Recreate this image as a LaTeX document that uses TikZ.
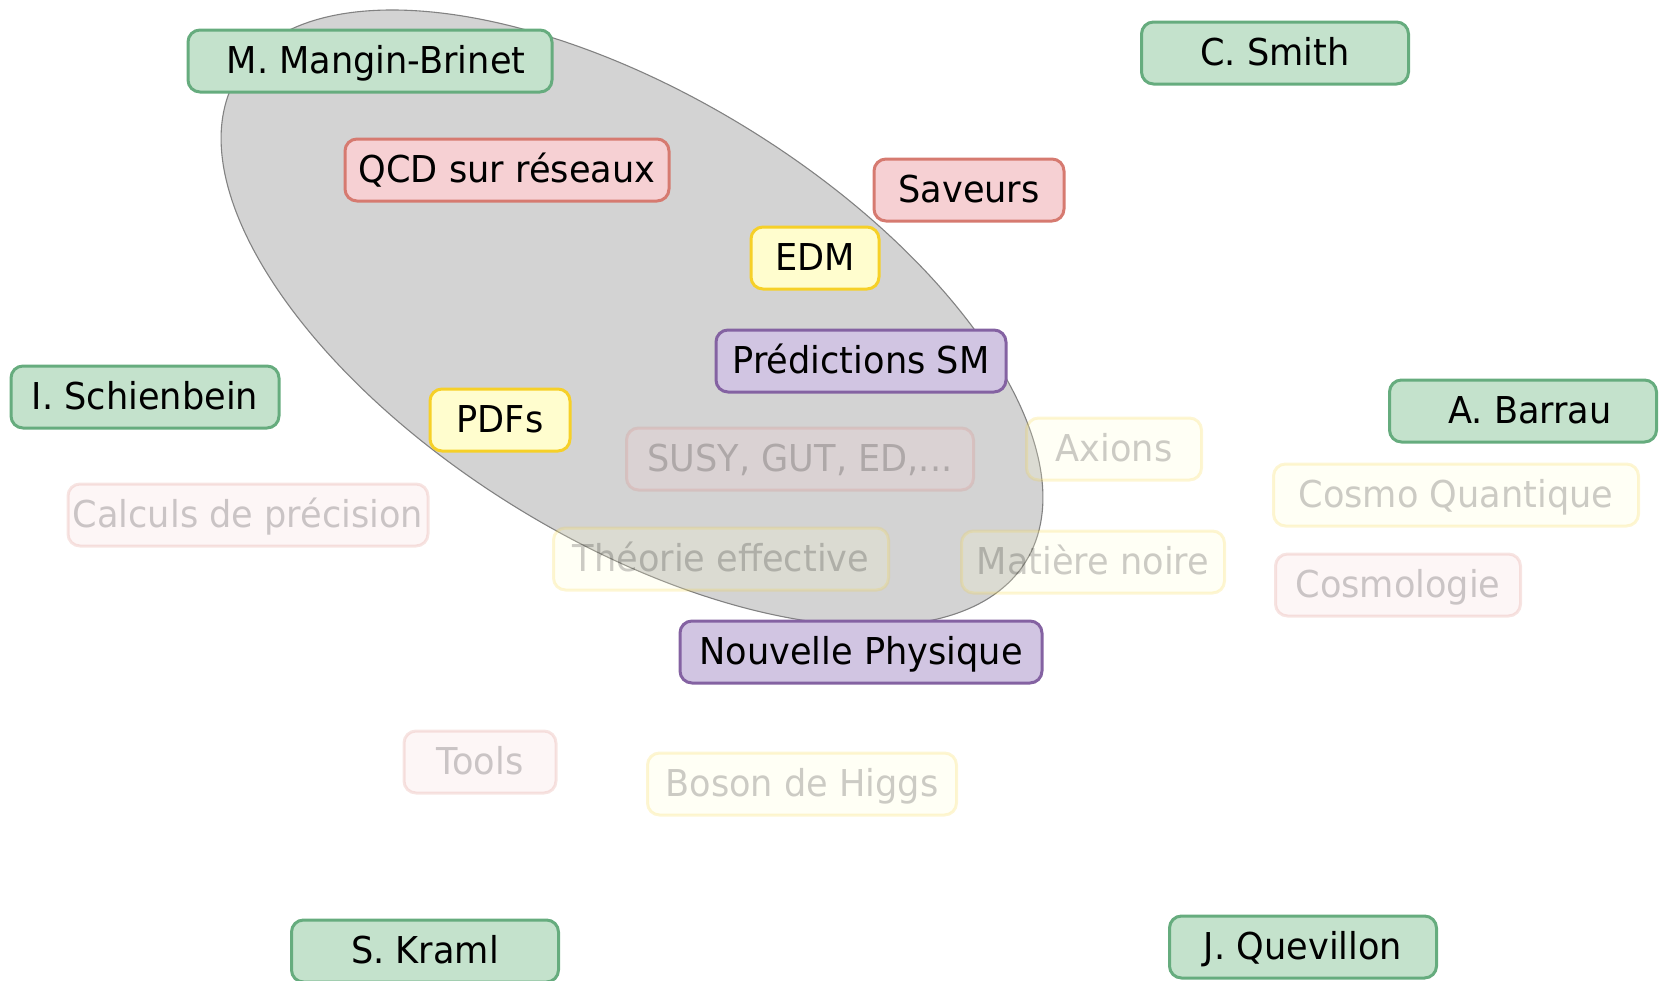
\documentclass[tikz,border=0pt]{standalone}
\usepackage{fontspec}
\setmainfont[FakeStretch=0.95]{DejaVu Sans}
\definecolor{fgreen}{RGB}{196,226,204}
\definecolor{dgreen}{RGB}{102,172,126}
\definecolor{fred}{RGB}{246,208,211}
\definecolor{dred}{RGB}{214,122,112}
\definecolor{fyellow}{RGB}{255,253,206}
\definecolor{dyellow}{RGB}{246,208,40}
\definecolor{fpurple}{RGB}{209,197,226}
\definecolor{dpurple}{RGB}{132,98,162}
\definecolor{ellfill}{RGB}{211,211,211}
\definecolor{elldraw}{RGB}{130,130,130}
\tikzset{
  box/.style={rounded corners=12pt, line width=3pt, minimum height=62pt,
    inner sep=0pt, text height=31pt, text depth=6pt,
    font=\fontsize{37}{44}\selectfont},
  person/.style={box, draw=dgreen, fill=fgreen},
  redbox/.style={box, draw=dred, fill=fred},
  yellowbox/.style={box, draw=dyellow, fill=fyellow},
  purplebox/.style={box, draw=dpurple, fill=fpurple},
  faded/.style={opacity=0.2},
}
\begin{document}
\begin{tikzpicture}[x=1pt, y=-1pt]
  \useasboundingbox (0,0) rectangle (1661,980);
  % shaded domain
  \draw[fill=ellfill, draw=elldraw, line width=1.1pt,
        rotate around={-31.7:(632,318)}]
    (632,318) ellipse [x radius=463pt, y radius=222pt];

  % people
  \node[person, minimum width=364pt] (mangin) at (370,61) {\hspace{12pt}M. Mangin-Brinet};
  \node[person, minimum width=267pt] (smith) at (1275,53) {C. Smith};
  \node[person, minimum width=268pt] (schienbein) at (145,397) {I. Schienbein};
  \node[person, minimum width=267pt] (barrau) at (1523,411) {\hspace{14pt}A. Barrau};
  \node[person, minimum width=267pt] (kraml) at (425,951) {S. Kraml};
  \node[person, minimum width=267pt] (quevillon) at (1303,947) {J. Quevillon};

  % highlighted topics
  \node[redbox, minimum width=324pt] (qcd) at (507,170) {QCD sur réseaux};
  \node[redbox, minimum width=190pt] (saveurs) at (969,190) {Saveurs};
  \node[yellowbox, minimum width=128pt] (edm) at (815,258) {EDM};
  \node[purplebox, minimum width=290pt] (predsm) at (861,361) {Prédictions SM};
  \node[yellowbox, minimum width=140pt] (pdfs) at (500,420) {PDFs};
  \node[purplebox, minimum width=362pt] (nouvelle) at (861,652) {Nouvelle Physique};

  % other topics
  \node[redbox, faded, minimum width=347pt] (susy) at (800,459) {SUSY, GUT, ED,...};
  \node[yellowbox, faded, minimum width=175pt] (axions) at (1114,449) {Axions};
  \node[yellowbox, faded, minimum width=365pt] (cosmoq) at (1456,495) {Cosmo Quantique};
  \node[redbox, faded, minimum width=360pt] (calculs) at (248,515) {Calculs de précision};
  \node[yellowbox, faded, minimum width=335pt] (theorie) at (721,559) {Théorie effective};
  \node[yellowbox, faded, minimum width=263pt] (matiere) at (1093,562) {Matière noire};
  \node[redbox, faded, minimum width=245pt] (cosmologie) at (1398,585) {Cosmologie};
  \node[redbox, faded, minimum width=152pt] (tools) at (480,762) {Tools};
  \node[yellowbox, faded, minimum width=309pt] (higgs) at (802,784) {Boson de Higgs};
\end{tikzpicture}
\end{document}
